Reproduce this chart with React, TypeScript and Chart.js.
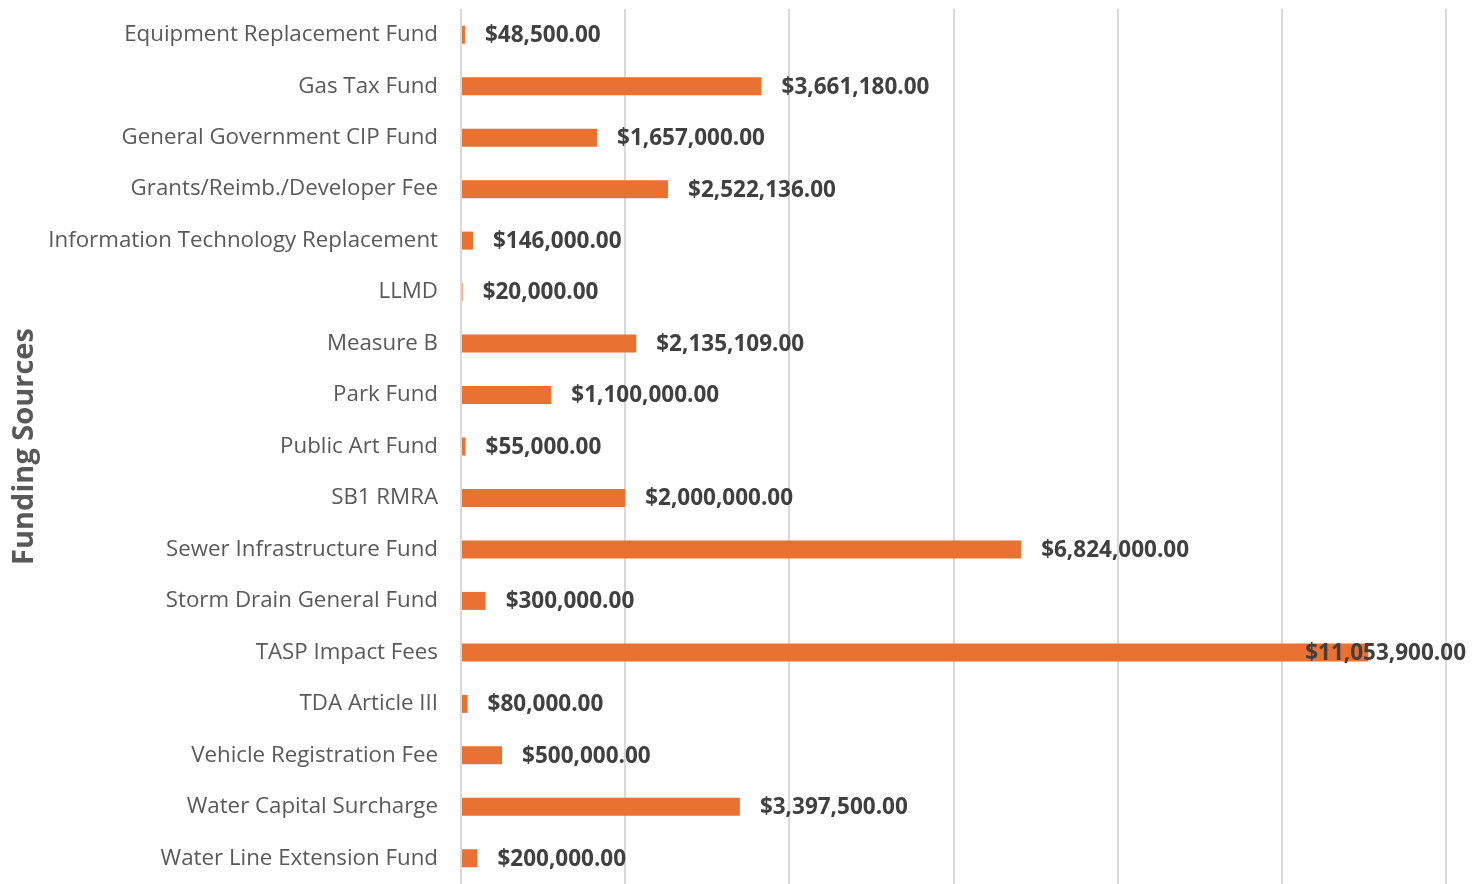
import React, { useEffect, useRef } from "react";
import { Chart, registerables } from "chart.js";

Chart.register(...registerables);

const categories = [
  "Equipment Replacement Fund",
  "Gas Tax Fund",
  "General Government CIP Fund",
  "Grants/Reimb./Developer Fee",
  "Information Technology Replacement",
  "LLMD",
  "Measure B",
  "Park Fund",
  "Public Art Fund",
  "SB1 RMRA",
  "Sewer Infrastructure Fund",
  "Storm Drain General Fund",
  "TASP Impact Fees",
  "TDA Article III",
  "Vehicle Registration Fee",
  "Water Capital Surcharge",
  "Water Line Extension Fund",
];

const amounts = [
  48500, 3661180, 1657000, 2522136, 146000, 20000, 2135109, 1100000, 55000,
  2000000, 6824000, 300000, 11053900, 80000, 500000, 3397500, 200000,
];

const axisMax = 12000000;
const axisStep = 2000000;

const fmt = (v: number) =>
  "$" + v.toLocaleString("en-US", { minimumFractionDigits: 2, maximumFractionDigits: 2 });

const labelPlugin = {
  id: "barLabels",
  afterDatasetsDraw(chart: any) {
    const ctx = chart.ctx;
    const meta = chart.getDatasetMeta(0);
    ctx.save();
    ctx.font = "bold 22.5px 'Open Sans', sans-serif";
    ctx.fillStyle = "#404040";
    ctx.textBaseline = "middle";
    ctx.textAlign = "left";
    const limit = chart.chartArea.right + 20;
    meta.data.forEach((bar: any, i: number) => {
      const text = fmt(amounts[i]);
      const w = ctx.measureText(text).width;
      let x = bar.x + 20;
      if (x + w > limit) x = limit - w;
      ctx.fillText(text, x, bar.y + 1);
    });
    ctx.restore();
  },
};

export default function App() {
  const ref = useRef<HTMLCanvasElement>(null);
  useEffect(() => {
    if (!ref.current) return;
    const chart = new Chart(ref.current, {
      type: "bar",
      data: {
        labels: categories,
        datasets: [
          {
            data: amounts,
            backgroundColor: "#E97132",
            borderWidth: 0,
            barPercentage: 0.35,
            categoryPercentage: 1,
          },
        ],
      },
      options: {
        indexAxis: "y",
        animation: false,
        responsive: false,
        maintainAspectRatio: false,
        layout: { padding: { top: 9, right: 37, bottom: -2, left: 0 } },
        plugins: { legend: { display: false }, tooltip: { enabled: false } },
        scales: {
          x: {
            min: 0,
            max: axisMax,
            ticks: { stepSize: axisStep, display: false },
            grid: { color: "#d9d9d9", lineWidth: 2, drawTicks: false },
            border: { display: false },
            afterFit: (s: any) => {
              s.height = 0;
              s.paddingLeft = 0;
              s.paddingRight = 0;
            },
          },
          y: {
            grid: { display: false, drawTicks: false },
            border: { display: false },
            ticks: {
              color: "#595959",
              font: { family: "'Open Sans', sans-serif", size: 22.3 },
              padding: 23,
            },
            title: {
              display: true,
              text: "Funding Sources",
              color: "#595959",
              font: { family: "'Open Sans', sans-serif", size: 29, weight: "bold" },
              padding: { top: 7, bottom: 4 },
            },
            afterFit: (s: any) => {
              s.width = 461;
              s.paddingTop = 0;
              s.paddingBottom = 0;
            },
          },
        },
      },
      plugins: [labelPlugin],
    });
    return () => chart.destroy();
  }, []);
  return (
    <div style={{ position: "fixed", left: 0, top: 0, width: 1483, height: 884, background: "#fff" }}>
      <canvas ref={ref} width={1483} height={884} style={{ width: 1483, height: 884 }} />
    </div>
  );
}
